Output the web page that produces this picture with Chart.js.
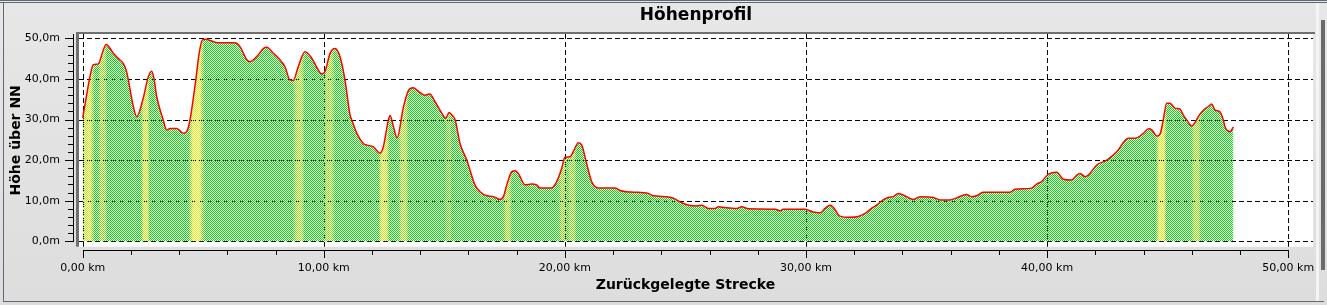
<!DOCTYPE html>
<html><head><meta charset="utf-8">
<script src="https://cdn.jsdelivr.net/npm/chart.js@4.4.1/dist/chart.umd.min.js"></script>
<style>html,body{margin:0;padding:0;background:#e1e2e1;overflow:hidden}canvas{display:block}</style>
</head><body>
<canvas id="c" width="1327" height="305"></canvas>
<script>
// ---- data ----
const distanceKm = [0.00,0.12,0.30,0.44,0.65,0.82,0.97,1.27,1.48,1.68,1.82,2.10,2.24,2.50,2.72,2.86,2.96,3.07,3.34,3.48,3.62,3.90,4.17,4.31,4.45,4.69,4.83,4.97,5.11,5.32,5.60,6.32,6.53,6.80,6.94,7.22,7.50,7.63,7.91,8.18,8.39,8.60,8.73,8.94,9.22,9.50,9.77,9.91,10.05,10.26,10.47,10.67,10.88,11.09,11.16,11.37,11.64,11.78,12.05,12.33,12.47,12.68,12.75,12.90,13.04,13.30,13.50,13.70,13.95,14.20,14.40,14.60,14.90,15.05,15.20,15.33,15.45,15.65,15.93,16.06,16.27,16.48,16.76,17.03,17.31,17.45,17.59,17.79,17.93,18.07,18.35,18.62,18.83,18.97,19.45,19.66,19.87,20.00,20.21,20.35,20.56,20.70,20.90,21.11,21.39,22.08,22.29,22.56,22.84,23.46,23.67,24.22,24.50,24.84,25.19,25.47,25.68,25.95,26.23,26.37,26.64,27.13,27.33,27.61,28.72,28.92,29.06,29.96,30.30,30.58,30.79,31.00,31.13,31.41,31.82,32.17,32.45,32.72,32.93,33.20,33.41,33.62,33.83,34.03,34.45,34.73,35.28,35.56,35.97,36.25,36.66,36.87,37.08,37.35,38.46,38.67,39.36,39.57,39.77,40.05,40.40,40.67,41.02,41.23,41.37,41.58,41.71,42.06,42.48,42.90,43.24,43.38,43.66,44.00,44.21,44.35,44.56,44.70,44.82,44.96,45.10,45.30,45.51,45.65,45.79,46.00,46.20,46.27,46.48,46.69,46.83,46.97,47.17,47.31,47.38,47.59,47.73];
const elevationM = [30.4,34.5,40.5,43.5,43.7,46.5,48.5,46.3,45.0,43.8,41.8,33.2,30.7,35.0,40.5,41.9,40.0,35.6,29.9,27.4,27.8,27.8,26.6,27.0,29.9,39.7,46.3,49.6,49.75,49.4,48.9,48.9,47.9,44.8,44.2,45.5,47.5,47.8,46.3,44.7,43.0,39.7,39.6,43.0,46.7,45.1,42.2,41.2,41.8,46.3,47.5,45.5,39.7,31.1,29.9,26.6,24.1,23.7,23.3,21.7,23.3,29.9,31.0,28.0,25.5,33.0,37.0,37.8,36.8,36.0,36.3,34.5,31.5,30.3,31.7,31.0,29.9,24.1,20.0,17.6,13.9,12.2,11.2,11.0,10.3,11.0,13.9,17.1,17.4,16.7,13.9,14.1,13.9,13.1,13.1,14.7,18.0,20.7,20.8,22.1,24.3,23.7,19.2,14.7,13.1,13.1,12.5,12.2,12.1,11.8,11.2,11.0,10.6,9.5,8.8,8.7,8.9,8.1,8.1,8.5,8.3,8.1,8.5,8.0,7.9,7.5,7.9,7.9,7.2,7.0,8.1,8.9,8.4,6.2,5.9,6.1,6.9,8.1,8.9,10.2,10.8,11.0,11.8,11.4,10.3,11.0,10.8,10.2,10.2,10.7,11.5,11.0,11.2,12.1,12.1,12.8,13.1,14.1,14.7,16.5,17.0,15.3,15.1,16.3,16.7,15.9,16.3,18.8,20.0,22.1,24.9,25.4,25.4,26.6,27.7,27.4,25.9,26.6,29.9,34.0,34.0,32.8,32.6,31.1,29.9,28.4,29.9,30.7,32.3,33.2,33.8,32.3,31.9,29.9,28.2,27.0,28.2];
const xTickValues = [0,10,20,30,40,50];
const xTickLabels = ['0,00 km','10,00 km','20,00 km','30,00 km','40,00 km','50,00 km'];
const yTickValues = [0,10,20,30,40,50];
const yTickLabels = ['0,0m','10,0m','20,0m','30,0m','40,0m','50,0m'];
// steep-slope highlight bands (km)
const bandStartKm = [0.00,0.72,2.50,4.45,8.80,10.05,12.33,13.16,15.11,17.52,19.80,20.17,44.60,46.05];
const bandEndKm   = [0.43,0.93,2.71,4.99,9.14,10.38,12.66,13.45,15.24,17.72,20.05,20.42,44.89,46.34];
const bandLevel   = [0.75,0.5,0.75,0.85,0.55,0.5,0.75,0.55,0.3,0.55,0.45,0.45,0.85,0.5];

const GREEN = [0,215,0], YELLOW = [255,240,0];
let patternCache = null;
function slopePattern(chart){
  const a = chart.chartArea, xs = chart.scales && chart.scales.x;
  if (!a || !xs) return 'rgba(0,215,0,0.5)';
  const key = a.left + '_' + a.right + '_' + chart.width;
  if (patternCache && patternCache.key === key) return patternCache.pattern;
  const w = chart.width;
  const pc = document.createElement('canvas'); pc.width = w; pc.height = 2;
  const pctx = pc.getContext('2d');
  const img = pctx.createImageData(w, 2);
  for (let x = 0; x < w; x++){
    const km = xs.getValueForPixel(x + 0.5);
    let t = 0;
    for (let i = 0; i < bandStartKm.length; i++){
      const s = bandStartKm[i] - 0.1, e = bandEndKm[i] + 0.1;
      if (km >= s && km <= e){
        const mid = (s+e)/2, half = (e-s)/2;
        let u = Math.min(1, (1 - Math.abs(km-mid)/half) * 1.5);
        u = u*u*(3-2*u);
        t = Math.max(t, bandLevel[i]*u);
      }
    }
    const c = [0,1,2].map(k => Math.round(GREEN[k] + (YELLOW[k]-GREEN[k])*t));
    for (let y = 0; y < 2; y++){
      if ((x + y) % 2 === 0){
        const idx = (y*w + x)*4;
        img.data[idx]=c[0]; img.data[idx+1]=c[1]; img.data[idx+2]=c[2]; img.data[idx+3]=255;
      }
    }
  }
  pctx.putImageData(img, 0, 0);
  const pattern = chart.ctx.createPattern(pc, 'repeat');
  patternCache = {key, pattern};
  return pattern;
}

const FONT = 'DejaVu Sans';
const decor = {
  id: 'decor',
  beforeDraw(chart){
    const {ctx, width: W, height: H, chartArea: a} = chart;
    ctx.save();
    const g = ctx.createLinearGradient(0,0,0,H);
    g.addColorStop(0,'#e6e7e6'); g.addColorStop(1,'#dcdddc');
    ctx.fillStyle = g; ctx.fillRect(0,0,W,H);
    // outer frame
    ctx.fillStyle = '#5f6873';
    ctx.fillRect(0,0,W,1); ctx.fillRect(0,2,W,1);
    ctx.fillRect(3,3,1,H-6); ctx.fillRect(3,H-4,W-6,1);
    ctx.fillStyle = '#f4f4f4'; ctx.fillRect(1316,3,3,H-7);
    ctx.fillStyle = '#6a6a6a'; ctx.fillRect(1321,20,4,250);
    // plot area
    ctx.fillStyle = '#ffffff';
    ctx.fillRect(a.left, a.top, a.right-a.left, a.bottom-a.top);
    ctx.fillStyle = '#707070';
    ctx.fillRect(a.left-3, a.top-2, a.right-a.left+5, 2);
    ctx.fillRect(a.left-3, a.top-2, 3, a.bottom-a.top+2);
    // y axis line and ticks
    const ys = chart.scales.y, xs = chart.scales.x;
    ctx.fillStyle = '#000';
    const y0 = Math.round(ys.getPixelForValue(0));
    ctx.fillRect(73, a.top, 1, y0 - a.top + 1);
    for (let v = 0; v <= 50; v += 2){
      const py = Math.round(ys.getPixelForValue(v));
      const major = yTickValues.includes(v);
      ctx.fillRect(major ? 65 : 68, py, major ? 8 : 5, 1);
    }
    // x axis line and ticks
    const x0 = Math.round(xs.getPixelForValue(0));
    const x50 = Math.round(xs.getPixelForValue(50));
    ctx.fillRect(x0, 250, x50 - x0 + 1, 1);
    for (let v = 0; v <= 50; v += 2){
      const px = Math.round(xs.getPixelForValue(v));
      const major = xTickValues.includes(v);
      ctx.fillRect(px, 250, 1, major ? 8 : 5);
    }
    ctx.restore();
  },
  beforeDatasetsDraw(chart){
    const {ctx, chartArea: a} = chart;
    const ys = chart.scales.y, xs = chart.scales.x;
    ctx.save();
    ctx.strokeStyle = '#000'; ctx.lineWidth = 1; ctx.setLineDash([5,3]);
    yTickValues.forEach(v => {
      const py = Math.round(ys.getPixelForValue(v)) + 0.5;
      ctx.beginPath(); ctx.moveTo(a.left, py); ctx.lineTo(a.right, py); ctx.stroke();
    });
    xTickValues.forEach(v => {
      const px = Math.round(xs.getPixelForValue(v)) + 0.5;
      ctx.beginPath(); ctx.moveTo(px, a.top); ctx.lineTo(px, a.bottom); ctx.stroke();
    });
    ctx.restore();
  },
  afterDraw(chart){
    const {ctx} = chart;
    const xs = chart.scales.x;
    ctx.save();
    ctx.fillStyle = '#000';
    ctx.font = 'bold 14px "' + FONT + '"';
    ctx.textAlign = 'center'; ctx.textBaseline = 'middle';
    ctx.fillText('Zurückgelegte Strecke', xs.getPixelForValue(25), 285);
    ctx.restore();
  }
};

new Chart(document.getElementById('c'), {
  type: 'line',
  data: {
    datasets: [{
      data: distanceKm.map((x, i) => ({x, y: elevationM[i]})),
      borderColor: '#ff0000',
      borderWidth: 1.5,
      pointRadius: 0,
      fill: 'origin',
      backgroundColor: (c) => slopePattern(c.chart),
      cubicInterpolationMode: 'monotone'
    }]
  },
  options: {
    responsive: false,
    animation: false,
    devicePixelRatio: 1,
    layout: {padding: {left: 0, right: 14, top: 0, bottom: 0}},
    plugins: {
      legend: {display: false},
      tooltip: {enabled: false},
      title: {
        display: true, text: 'Höhenprofil', fullSize: false, color: '#000',
        font: {family: FONT, size: 17, weight: 'bold'},
        padding: {top: 5.6, bottom: 8}
      }
    },
    scales: {
      x: {
        type: 'linear', min: -0.153, max: 51.03,
        afterBuildTicks: (s) => { s.ticks = xTickValues.map(v => ({value: v})); },
        afterFit: (s) => { s.height = 305 - 246.7; s.paddingLeft = 0; s.paddingRight = 0; },
        ticks: {
          callback: (v) => xTickLabels[xTickValues.indexOf(v)],
          padding: 15, maxRotation: 0, autoSkip: false, color: '#000',
          font: {family: FONT, size: 11}
        },
        grid: {display: false, drawTicks: false},
        border: {display: false}
      },
      y: {
        type: 'linear', min: -1.33, max: 51.06,
        afterBuildTicks: (s) => { s.ticks = yTickValues.map(v => ({value: v})); },
        afterFit: (s) => { s.width = 79; s.paddingTop = 0; s.paddingBottom = 0; },
        ticks: {
          callback: (v) => yTickLabels[yTickValues.indexOf(v)],
          padding: 19, autoSkip: false, color: '#000',
          font: {family: FONT, size: 11}
        },
        grid: {display: false, drawTicks: false},
        border: {display: false},
        title: {
          display: true, text: 'Höhe über NN', color: '#000',
          font: {family: FONT, size: 14, weight: 'bold'},
          padding: {top: 7.6, bottom: 0}
        }
      }
    }
  },
  plugins: [decor]
});
</script>
</body></html>
